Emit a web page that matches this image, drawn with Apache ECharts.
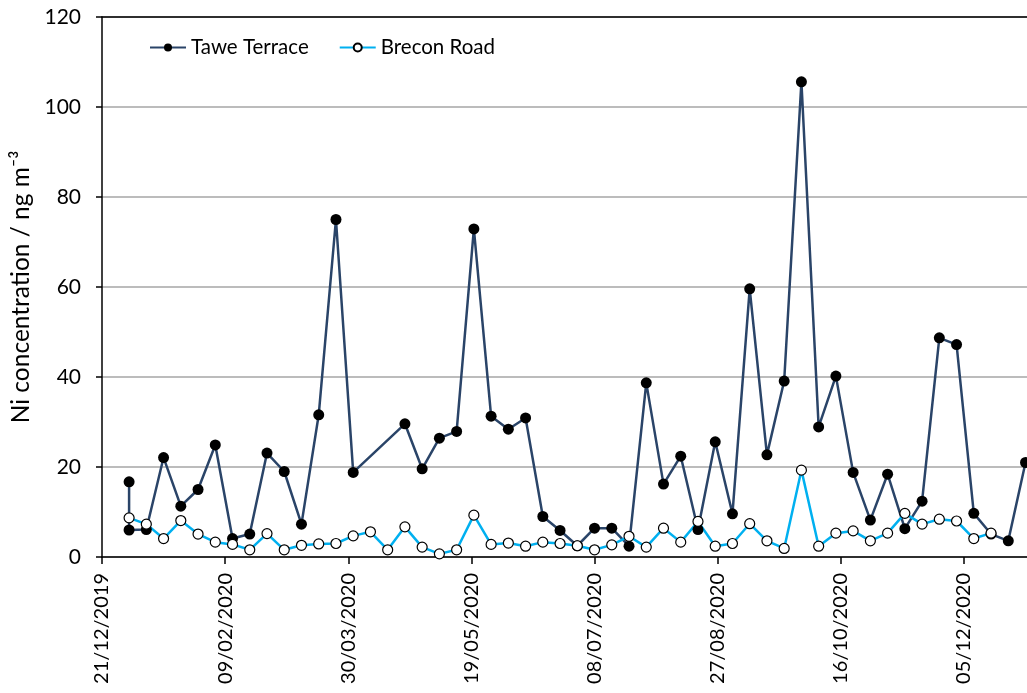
<!DOCTYPE html>
<html>
<head>
<meta charset="utf-8">
<script src="https://cdn.jsdelivr.net/npm/echarts@6.0.0/dist/echarts.min.js"></script>
<style>
  html, body { margin: 0; padding: 0; background: #fff; }
  #chart { width: 1027px; height: 693px; }
</style>
</head>
<body>
<div id="chart"></div>
<script>
// sampling dates and Ni values (ng m-3)
const taweDates = [
  "2020-01-01", "2020-01-01", "2020-01-08", "2020-01-15", "2020-01-22", "2020-01-29",
  "2020-02-05", "2020-02-12", "2020-02-19", "2020-02-26", "2020-03-04", "2020-03-11",
  "2020-03-18", "2020-03-25", "2020-04-01", "2020-04-22", "2020-04-29", "2020-05-06",
  "2020-05-13", "2020-05-20", "2020-05-27", "2020-06-03", "2020-06-10", "2020-06-17",
  "2020-06-24", "2020-07-01", "2020-07-08", "2020-07-15", "2020-07-22", "2020-07-29",
  "2020-08-05", "2020-08-12", "2020-08-19", "2020-08-26", "2020-09-02", "2020-09-09",
  "2020-09-16", "2020-09-23", "2020-09-30", "2020-10-07", "2020-10-14", "2020-10-21",
  "2020-10-28", "2020-11-04", "2020-11-11", "2020-11-18", "2020-11-25", "2020-12-02",
  "2020-12-09", "2020-12-16", "2020-12-23", "2020-12-30"
];
const taweValues = [
  16.7, 6.0, 6.1, 22.1, 11.3, 15.0,
  24.9, 4.1, 5.1, 23.1, 19.0, 7.3,
  31.6, 75.0, 18.8, 29.6, 19.6, 26.4,
  27.9, 72.9, 31.3, 28.4, 30.9, 9.0,
  5.9, 2.5, 6.4, 6.4, 2.4, 38.7,
  16.2, 22.4, 6.1, 25.6, 9.6, 59.6,
  22.7, 39.1, 105.6, 28.9, 40.2, 18.8,
  8.2, 18.4, 6.3, 12.4, 48.7, 47.2,
  9.7, 5.1, 3.6, 21.0
];

const breconDates = [
  "2020-01-01", "2020-01-08", "2020-01-15", "2020-01-22", "2020-01-29",
  "2020-02-05", "2020-02-12", "2020-02-19", "2020-02-26", "2020-03-04",
  "2020-03-11", "2020-03-18", "2020-03-25", "2020-04-01", "2020-04-08",
  "2020-04-15", "2020-04-22", "2020-04-29", "2020-05-06", "2020-05-13",
  "2020-05-20", "2020-05-27", "2020-06-03", "2020-06-10", "2020-06-17",
  "2020-06-24", "2020-07-01", "2020-07-08", "2020-07-15", "2020-07-22",
  "2020-07-29", "2020-08-05", "2020-08-12", "2020-08-19", "2020-08-26",
  "2020-09-02", "2020-09-09", "2020-09-16", "2020-09-23", "2020-09-30",
  "2020-10-07", "2020-10-14", "2020-10-21", "2020-10-28", "2020-11-04",
  "2020-11-11", "2020-11-18", "2020-11-25", "2020-12-02", "2020-12-09",
  "2020-12-16"
];
const breconValues = [
  8.7, 7.3, 4.1, 8.1, 5.1,
  3.3, 2.8, 1.6, 5.2, 1.6,
  2.6, 2.9, 3.0, 4.7, 5.6,
  1.6, 6.7, 2.2, 0.7, 1.6,
  9.3, 2.8, 3.1, 2.4, 3.3,
  3.0, 2.5, 1.6, 2.7, 4.6,
  2.2, 6.4, 3.3, 7.9, 2.4,
  3.0, 7.4, 3.6, 1.9, 19.3,
  2.4, 5.3, 5.8, 3.6, 5.3,
  9.7, 7.3, 8.4, 8.0, 4.1,
  5.3
];

// x axis runs in days from 21/12/2019, ticks every 50 days
const startDate = Date.UTC(2019, 11, 21);
const DAY = 86400000;
const xMin = 0;
const xMax = 375.6;
const xStep = 50;

function toDay(s) {
  const p = s.split("-");
  return (Date.UTC(+p[0], +p[1] - 1, +p[2]) - startDate) / DAY;
}

function fmtDay(v) {
  if (Math.abs(v % xStep) > 1e-6) return "";
  const d = new Date(startDate + v * DAY);
  const dd = String(d.getUTCDate()).padStart(2, "0");
  const mm = String(d.getUTCMonth() + 1).padStart(2, "0");
  return dd + "/" + mm + "/" + d.getUTCFullYear();
}

const taweData = taweDates.map((d, i) => [toDay(d), taweValues[i]]);
const breconData = breconDates.map((d, i) => [toDay(d), breconValues[i]]);

const FONT = "Lato";

const chart = echarts.init(document.getElementById("chart"));

const option = {
  animation: false,
  textStyle: { fontFamily: FONT },
  grid: { left: 102, right: 0, top: 17, bottom: 136 },
  legend: {
    left: 144,
    top: 32,
    itemWidth: 36,
    itemHeight: 10,
    itemGap: 30,
    textStyle: { fontFamily: FONT, fontSize: 20.5, color: "#000" },
    data: ["Tawe Terrace", "Brecon Road"],
  },
  xAxis: [
    {
      type: "value",
      min: xMin,
      max: xMax,
      interval: xStep,
      axisLine: { lineStyle: { color: "#000", width: 1.5 } },
      axisTick: { show: true, length: 7, lineStyle: { color: "#000", width: 1.5 } },
      axisLabel: {
        rotate: 90,
        margin: 16,
        fontFamily: FONT,
        fontSize: 20,
        color: "#000",
        showMaxLabel: false,
        formatter: fmtDay,
      },
      splitLine: { show: false },
    },
    {
      type: "value",
      position: "top",
      min: xMin,
      max: xMax,
      axisLine: { show: true, onZero: false, lineStyle: { color: "#000", width: 1.5 } },
      axisTick: { show: false },
      axisLabel: { show: false },
      splitLine: { show: false },
    },
  ],
  yAxis: {
    type: "value",
    min: 0,
    max: 120,
    interval: 20,
    name: "Ni concentration / ng m\u207B\u00B3",
    nameLocation: "middle",
    nameGap: 67,
    nameTextStyle: { fontFamily: FONT, fontSize: 24.5, color: "#000" },
    axisLine: { show: true, lineStyle: { color: "#000", width: 1.5 } },
    axisTick: { show: true, length: 6, lineStyle: { color: "#000", width: 1.5 } },
    axisLabel: { margin: 21, fontFamily: FONT, fontSize: 21, color: "#000" },
    splitLine: { show: true, lineStyle: { color: "#a6a6a6", width: 1.5 } },
  },
  series: [
    {
      name: "Tawe Terrace",
      type: "line",
      xAxisIndex: 0,
      data: taweData,
      symbol: "circle",
      symbolSize: 11,
      lineStyle: { color: "#2A4468", width: 2.5 },
      itemStyle: { color: "#000", borderColor: "#000", borderWidth: 0 },
    },
    {
      name: "Brecon Road",
      type: "line",
      xAxisIndex: 0,
      data: breconData,
      symbol: "circle",
      symbolSize: 10,
      lineStyle: { color: "#00B0F0", width: 2.5 },
      itemStyle: { color: "#fff", borderColor: "#000", borderWidth: 1.2 },
    },
  ],
};

chart.setOption(option);

window.addEventListener("resize", function () {
  chart.resize();
});
</script>
</body>
</html>
